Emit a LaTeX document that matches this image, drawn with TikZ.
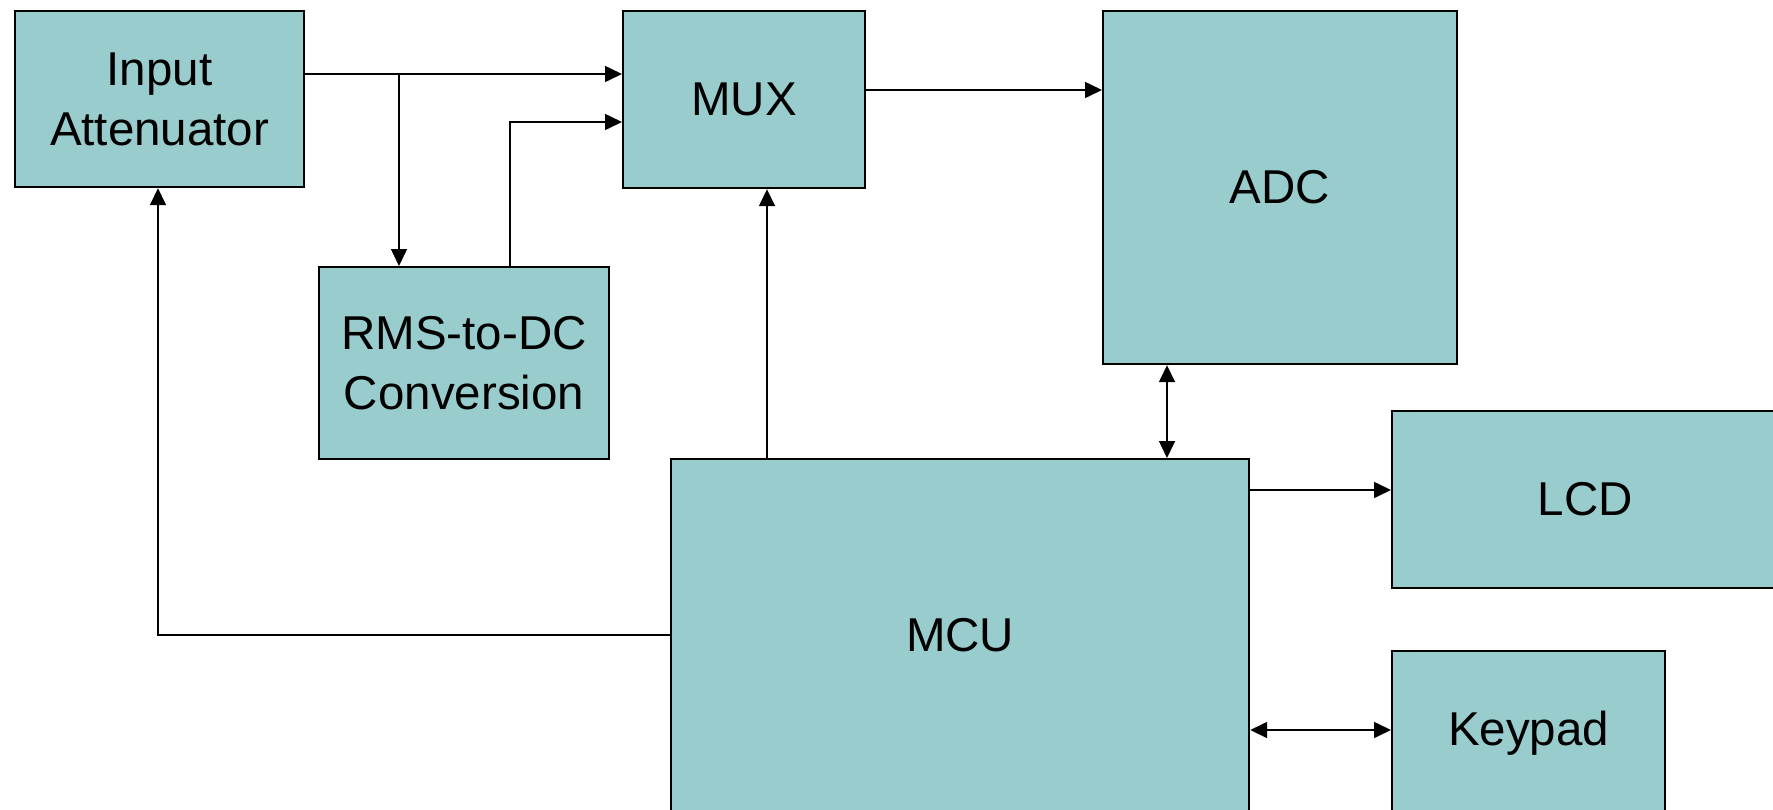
\documentclass[tikz,border=0pt]{standalone}
\usepackage{fontspec}
\setmainfont{Liberation Sans}
\usetikzlibrary{arrows.meta}
\definecolor{boxfill}{HTML}{99CCCC}
\tikzset{
  blk/.style={draw=black, fill=boxfill, line width=1.1pt, rectangle, inner sep=0pt, anchor=north west,
    font=\fontsize{23.75pt}{30pt}\selectfont, align=center, text=black},
  tip/.tip={Triangle[length=8.5pt,width=8pt]},
  arr/.style={line width=0.8pt, -tip},
  darr/.style={line width=0.8pt, tip-tip}
}
\begin{document}
\begin{tikzpicture}[x=0.5pt,y=-0.5pt]
\useasboundingbox (0,0) rectangle (1773,809);
\fill[white] (0,0) rectangle (1773,809);
% blocks
\node[blk, minimum width=289pt*0.5, minimum height=176pt*0.5] (ia) at (14,10) {Input\\Attenuator};
\node[blk, minimum width=242pt*0.5, minimum height=177pt*0.5] (mux) at (622,10) {MUX};
\node[blk, minimum width=354pt*0.5, minimum height=353pt*0.5] (adc) at (1102,10) {ADC};
\node[blk, minimum width=290pt*0.5, minimum height=192pt*0.5] (rms) at (318,266) {RMS-to-DC\\Conversion};
\node[blk, minimum width=578pt*0.5, minimum height=352pt*0.5] (mcu) at (670,458) {MCU};
\node[blk, minimum width=386pt*0.5, minimum height=177pt*0.5] (lcd) at (1391,410) {LCD};
\node[blk, minimum width=273pt*0.5, minimum height=164pt*0.5] (kp) at (1391,650) {Keypad};
% helper coordinates
\coordinate (j1) at (399,74);
\coordinate (j2) at (510,122);
\coordinate (j3) at (0,90);
\coordinate (j4) at (767,0);
\coordinate (j5) at (158,635);
\coordinate (j6) at (1167,0);
\coordinate (j7) at (0,490);
\coordinate (j8) at (0,730);
% connectors
\draw[arr] (ia.east |- j1) -- (mux.west |- j1);
\draw[arr] (j1) -- (rms.north -| j1);
\draw[arr] (rms.north -| j2) |- (mux.west |- j2);
\draw[arr] (mux.east |- j3) -- (adc.west |- j3);
\draw[arr] (mcu.north -| j4) -- (mux.south -| j4);
\draw[arr] (mcu.west |- j5) -| (ia.south -| j5);
\draw[darr] (adc.south -| j6) -- (mcu.north -| j6);
\draw[arr] (mcu.east |- j7) -- (lcd.west |- j7);
\draw[darr] (mcu.east |- j8) -- (kp.west |- j8);
\end{tikzpicture}
\end{document}
